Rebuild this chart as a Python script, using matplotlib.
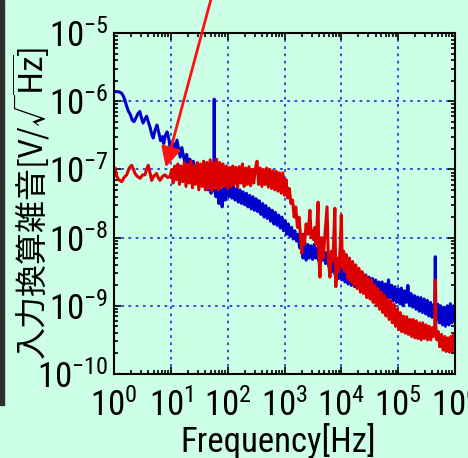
import numpy as np
from matplotlib import pyplot as plt
from matplotlib.patches import Rectangle

# 周波数 [Hz] と log10(雑音 [V/rtHz]) -- 図から読み取り
blue_f = [1.0, 1.2, 1.35, 1.45, 1.55, 1.65, 1.8, 1.95, 2.1, 2.25, 2.45, 2.65, 2.85, 3.05,
          3.25, 3.5, 3.75, 4.0, 4.3, 4.6, 4.9, 5.3, 5.7, 6.1, 6.6, 7.1, 7.5, 8.0, 8.6, 9.2,
          9.8, 10.5, 11.2, 12.0, 12.8, 13.7, 14.6, 15.6, 16.7, 17.8, 19, 20.3, 21.7, 23.2,
          24.8, 26.5, 28.3, 30.2, 32.3, 34.5, 36.8, 39.3, 42, 44.8, 47.8, 51, 54.5, 57, 58,
          59, 62, 66, 70, 75, 80, 85, 91, 97, 104, 111, 118, 126, 135, 144, 154, 164, 175,
          187, 200, 213, 228, 243, 260, 277, 296, 316, 337, 360, 385, 411, 439, 468, 500,
          534, 570, 608, 649, 693, 740, 790, 843, 900, 961, 1026, 1095, 1169, 1248, 1333,
          1423, 1519, 1622, 1732, 1849, 1974, 2107, 2250, 2402, 2565, 2738, 2923, 3121,
          3332, 3557, 3798, 4055, 4329, 4622, 4934, 5268, 5624, 6005, 6411, 6844, 7307,
          7801, 8329, 8892, 9494, 10136, 10822, 11554, 12335, 13170, 14060, 15012, 16027,
          17111, 18268, 19504, 20823, 22232, 23735, 25340, 27054, 28884, 30837, 32923,
          35150, 37527, 40065, 42775, 45668, 48757, 52054, 55575, 59334, 63347, 67631,
          72205, 77089, 82303, 87870, 93813, 100158, 106932, 114164, 121886, 130130,
          138931, 148328, 158360, 169071, 180506, 192715, 205750, 219666, 234524, 250387,
          267322, 285402, 304706, 325315, 347318, 370809, 395890, 422666, 440000, 450000,
          460000, 480000, 500000, 530000, 560000, 600000, 640000, 680000, 730000, 780000,
          830000, 890000, 950000, 1000000]
blue_v = [-5.86, -5.86, -5.88, -5.92, -5.98, -6.06, -6.15, -6.2, -6.28, -6.30, -6.24, -6.18,
          -6.15, -6.25, -6.32, -6.26, -6.22, -6.30, -6.38, -6.48, -6.54, -6.42, -6.35,
          -6.45, -6.58, -6.52, -6.62, -6.50, -6.45, -6.55, -6.70, -6.76, -6.62, -6.72,
          -6.57, -6.70, -6.82, -6.68, -6.80, -6.92, -6.78, -6.95, -6.85, -7.02, -6.88,
          -7.08, -6.95, -7.15, -7.0, -7.2, -7.05, -7.25, -7.1, -7.3, -7.12, -7.35, -7.18,
          -7.3, -5.97, -7.3, -7.4, -7.25, -7.5, -7.3, -7.55, -7.28, -7.45, -7.2, -7.4,
          -7.22, -7.42, -7.25, -7.45, -7.28, -7.48, -7.3, -7.5, -7.33, -7.52, -7.35, -7.55,
          -7.38, -7.58, -7.4, -7.6, -7.43, -7.62, -7.46, -7.66, -7.5, -7.7, -7.53, -7.72,
          -7.57, -7.76, -7.6, -7.8, -7.63, -7.82, -7.67, -7.86, -7.7, -7.9, -7.75, -7.95,
          -7.8, -7.98, -7.85, -8.02, -7.9, -8.05, -7.95, -8.15, -8.0, -8.3, -8.05, -8.33,
          -8.1, -8.3, -8.12, -8.32, -8.1, -8.3, -8.15, -8.35, -8.18, -8.33, -8.2, -8.38,
          -8.22, -8.42, -8.3, -8.5, -8.35, -8.55, -8.4, -8.6, -8.45, -8.62, -8.47, -8.65,
          -8.45, -8.68, -8.5, -8.7, -8.52, -8.72, -8.55, -8.7, -8.5, -8.72, -8.52, -8.73,
          -8.55, -8.75, -8.58, -8.77, -8.6, -8.8, -8.62, -8.82, -8.65, -8.85, -8.65, -8.87,
          -8.68, -8.9, -8.62, -8.88, -8.7, -8.93, -8.72, -8.95, -8.75, -8.97, -8.74, -9.0,
          -8.78, -8.95, -8.7, -9.0, -8.82, -9.02, -8.85, -9.05, -8.87, -9.08, -8.88, -9.1,
          -8.9, -9.12, -8.92, -9.15, -8.95, -9.17, -8.98, -9.1, -8.28, -9.1, -9.2, -8.98,
          -9.25, -9.0, -9.28, -9.02, -9.3, -9.0, -9.28, -8.97, -9.25, -9.0, -9.2]

red_f = [1.0, 1.05, 1.1, 1.2, 1.37, 1.5, 1.67, 1.85, 2.05, 2.2, 2.34, 2.55, 2.87, 3.2, 3.5,
         3.75, 4.0, 4.3, 4.6, 5.0, 5.6, 6.0, 6.45, 7.2, 7.9, 8.8, 9.7, 10.4, 11, 11.7, 12.5,
         13.3, 14.2, 15.2, 16.2, 17.3, 18.5, 19.7, 21, 22.5, 24, 25.6, 27.3, 29.2, 31.1,
         33.2, 35.5, 37.9, 40.4, 43.1, 46, 49.2, 52.5, 56, 59.8, 63.9, 68.2, 72.8, 77.7, 83,
         88.6, 94.6, 101, 108, 115, 123, 131, 140, 150, 160, 171, 182, 195, 208, 222, 237,
         253, 270, 288, 308, 329, 351, 374, 400, 427, 455, 486, 519, 554, 592, 632, 674,
         720, 769, 821, 876, 936, 999, 1066, 1139, 1216, 1298, 1386, 1480, 1580, 1687,
         1800, 1925, 2000, 2100, 2250, 2400, 2600, 2800, 2950, 3100, 3250, 3400, 3600,
         3900, 4000, 4200, 4500, 4800, 5200, 5600, 5900, 6300, 6700, 7100, 7700, 8000,
         8400, 9000, 9600, 10000, 10400, 11000, 11600, 12300, 13000, 13900, 14800, 15800,
         16800, 17900, 19100, 20300, 21700, 23100, 24600, 26300, 28000, 29900, 31900,
         34000, 36300, 38700, 41300, 44000, 47000, 50100, 53500, 57000, 60900, 65000,
         69300, 74000, 79000, 84200, 89900, 95900, 102000, 109000, 116000, 124000, 133000,
         141000, 151000, 161000, 172000, 183000, 196000, 209000, 223000, 238000, 254000,
         271000, 289000, 308000, 329000, 351000, 375000, 400000, 427000, 440000, 450000,
         460000, 480000, 510000, 540000, 580000, 620000, 660000, 700000, 750000, 800000,
         850000, 900000, 950000, 1000000]
red_v = [-7.0, -6.98, -7.08, -7.15, -7.18, -7.12, -7.08, -6.98, -6.94, -7.0, -7.06, -7.1,
         -7.13, -7.08, -7.08, -7.0, -6.94, -7.05, -7.16, -7.1, -7.06, -7.12, -7.16, -7.1,
         -7.08, -7.12, -7.1, -7.0, -7.2, -6.95, -7.15, -6.92, -7.22, -6.95, -7.18, -6.9,
         -7.25, -6.93, -7.2, -6.88, -7.27, -6.95, -7.22, -6.9, -7.3, -6.92, -7.25, -6.88,
         -7.3, -6.9, -7.28, -6.86, -7.32, -6.9, -7.28, -6.85, -7.3, -6.9, -7.26, -6.92,
         -7.25, -6.95, -7.28, -6.97, -7.25, -6.95, -7.22, -6.97, -7.26, -6.96, -7.2, -6.92,
         -7.25, -6.98, -7.22, -6.96, -7.24, -7.0, -7.2, -6.98, -6.88, -7.22, -6.98, -7.25,
         -7.0, -7.22, -6.98, -7.26, -7.0, -7.28, -7.02, -7.3, -7.03, -7.32, -7.05, -7.35,
         -7.05, -7.38, -7.15, -7.42, -7.28, -7.5, -7.45, -7.7, -7.55, -7.85, -7.7, -8.0,
         -8.23, -7.95, -8.1, -7.8, -7.95, -7.6, -8.0, -7.9, -8.03, -7.85, -8.1, -7.48, -8.2,
         -8.58, -8.0, -8.3, -7.9, -7.55, -8.3, -8.58, -8.2, -8.35, -7.57, -8.72, -8.3,
         -8.5, -8.1, -7.67, -8.43, -8.2, -8.5, -8.25, -8.6, -8.3, -8.65, -8.35, -8.7, -8.4,
         -8.75, -8.45, -8.8, -8.5, -8.82, -8.55, -8.88, -8.6, -8.9, -8.62, -8.95, -8.7,
         -9.0, -8.75, -9.05, -8.8, -9.1, -8.85, -9.15, -8.9, -9.2, -8.92, -9.25, -8.98,
         -9.3, -9.05, -9.35, -9.1, -9.38, -9.15, -9.4, -9.16, -9.42, -9.2, -9.45, -9.2,
         -9.47, -9.22, -9.48, -9.25, -9.5, -9.25, -9.48, -9.28, -9.5, -9.3, -9.5, -9.32,
         -9.45, -9.3, -8.62, -9.3, -9.5, -9.38, -9.6, -9.42, -9.65, -9.45, -9.67, -9.47,
         -9.68, -9.45, -9.66, -9.42, -9.6]

# 矢印の先 (周波数, log10 値)
arrow_tip = (7.9, -7.01)

num_font = ['Roboto Condensed', 'Liberation Sans']
jp_font = ['Noto Sans CJK JP', 'DejaVu Sans']
bg = '#ccffe6'

fig = plt.figure(figsize=(4.68, 4.58), dpi=100, facecolor=bg)
ax = fig.add_axes([114 / 468, 1 - 374 / 458, 341 / 468, 341 / 458], facecolor=bg)

ax.plot(blue_f, 10 ** np.array(blue_v), c='#0000cc', lw=2.2)
ax.plot(red_f, 10 ** np.array(red_v), c='#dd0000', lw=2.2)

ax.set_xscale('log')
ax.set_yscale('log')
ax.set_xlim(1, 1e6)
ax.set_ylim(1e-10, 1e-5)
ax.grid(True, which='major', color='#2a3fd8', ls=(0, (1.5, 2.5)), lw=1.3)
ax.tick_params(which='both', direction='in', top=True, right=True, width=1.2, colors='black')
ax.tick_params(which='major', length=5)
ax.tick_params(which='minor', length=3)
ax.tick_params(axis='x', pad=10)
ax.tick_params(axis='y', pad=4)
for lab in ax.get_xticklabels() + ax.get_yticklabels():
    lab.set_fontfamily(num_font)
    lab.set_fontsize(25)
for sp in ax.spines.values():
    sp.set_linewidth(1.5)

ax.set_xlabel('Frequency[Hz]', fontsize=25, family=num_font)
ax.xaxis.label.set_va('baseline')
ax.xaxis.set_label_coords((278.5 - 114) / 341, (374 - 452) / 341)
ax.set_ylabel(r'入力換算雑音[V/√$\overline{\mathdefault{Hz}}$]', fontsize=23,
              family=jp_font)
ax.yaxis.label.set_va('center')
ax.yaxis.set_label_coords((31 - 114) / 341, (374 - 203) / 341)

# 赤い矢印
ax.annotate('', xy=(arrow_tip[0], 10 ** arrow_tip[1]), xycoords='data',
            xytext=(212 / 468, 1.01), textcoords='figure fraction',
            arrowprops=dict(arrowstyle='-|>,head_length=0.6,head_width=0.3',
                            mutation_scale=20, color='#ff1111', lw=2),
            annotation_clip=False)

# 左端の暗い帯
fig.patches.append(Rectangle((0, 1 - 405 / 458), 4 / 468, 405 / 458,
                             transform=fig.transFigure, color='#2e2e2e'))

fig.savefig('out.png', dpi=100)
